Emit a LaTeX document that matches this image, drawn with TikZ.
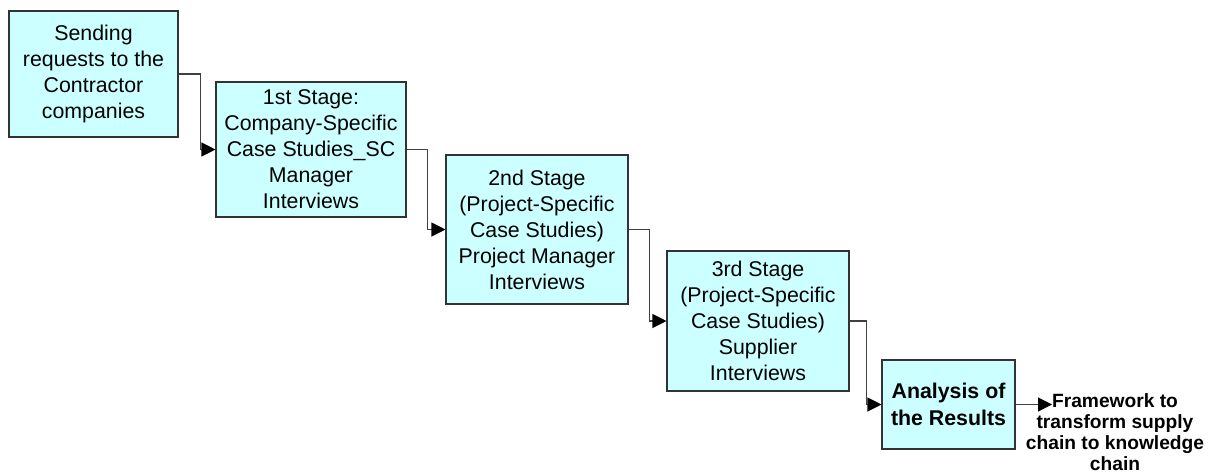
\documentclass[tikz,border=0pt]{standalone}
\usepackage{fontspec}
\setmainfont{Liberation Sans}
\usetikzlibrary{arrows.meta}
\definecolor{boxfill}{HTML}{CCFFFF}
\definecolor{boxline}{HTML}{333333}
\definecolor{linkline}{HTML}{404040}
\begin{document}
\begin{tikzpicture}[x=0.75pt,y=-0.75pt,
  stagebox/.style={draw=boxline,line width=0.8pt,fill=boxfill,inner sep=0pt,
    align=center,font=\fontsize{16}{19.5}\selectfont},
  link/.style={draw=linkline,line width=0.8pt,
    -{Triangle[length=10.5pt,width=10.5pt,fill=black,color=black]}},
  outcome/.style={align=center,inner sep=0pt,font=\fontsize{14.4}{15.6}\selectfont\bfseries}]
\useasboundingbox (0,0) rectangle (1212,475);

\node[stagebox,minimum width=169*0.75pt,minimum height=126*0.75pt] (req) at (93.5,74)
  {Sending\\requests to the\\Contractor\\companies};
\node[stagebox,minimum width=190*0.75pt,minimum height=135*0.75pt] (s1) at (311,149.5)
  {1st Stage:\\Company-Specific\\Case Studies\_SC\\Manager\\Interviews};
\node[stagebox,minimum width=182*0.75pt,minimum height=149*0.75pt] (s2) at (537,229.5)
  {2nd Stage\\(Project-Specific\\Case Studies)\\Project Manager\\Interviews};
\node[stagebox,minimum width=182*0.75pt,minimum height=140*0.75pt] (s3) at (758,321)
  {3rd Stage\\(Project-Specific\\Case Studies)\\Supplier\\Interviews};
\node[stagebox,minimum width=133*0.75pt,minimum height=89*0.75pt,
  font=\fontsize{16}{20.25}\selectfont\bfseries] (ana) at (948.5,404.5)
  {Analysis of\\the Results};
\node[outcome] (fw) at (1115,432)
  {Framework to\\transform supply\\chain to knowledge\\chain};
\coordinate (fwin) at (1052,404.5);

\draw[link] (req.east) -- ++(22,0) |- (s1.west);
\draw[link] (s1.east) -- ++(21,0) |- (s2.west);
\draw[link] (s2.east) -- ++(21,0) |- (s3.west);
\draw[link] (s3.east) -- ++(17,0) |- (ana.west);
\draw[link] (ana.east) -- (fwin);
\end{tikzpicture}
\end{document}
